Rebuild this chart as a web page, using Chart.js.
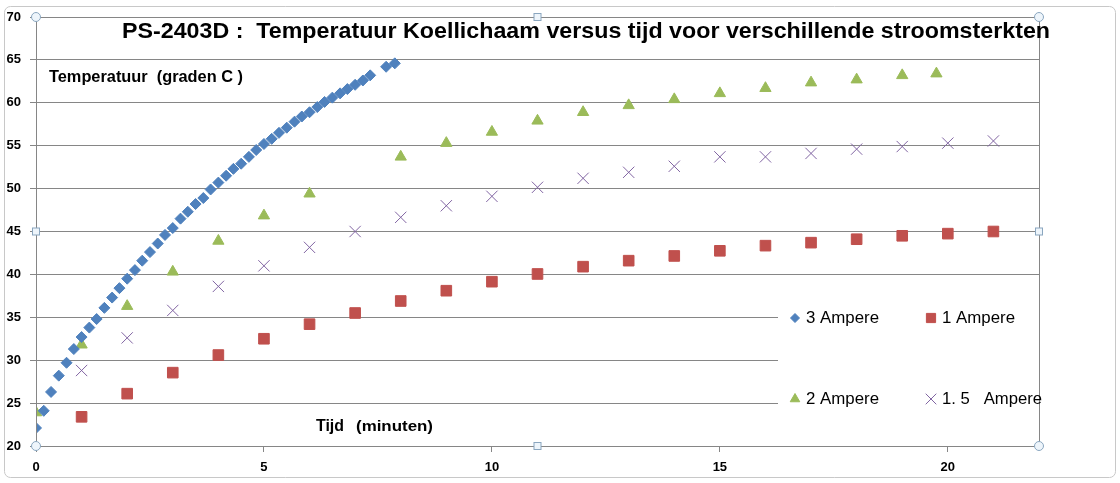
<!DOCTYPE html>
<html>
<head>
<meta charset="utf-8">
<script src="https://cdn.jsdelivr.net/npm/chart.js@4.4.1/dist/chart.umd.min.js"></script>
<style>
  html, body { margin: 0; padding: 0; background: #fff; }
  #wrap { width: 1120px; height: 483px; }
</style>
</head>
<body>
<div id="wrap"><canvas id="chart" width="1120" height="483"></canvas></div>
<script>
// PS-2403D: temperatuur koellichaam versus tijd, vier stroomsterkten
const time3A = [0,0.17,0.33,0.5,0.67,0.83,1,1.17,1.33,1.5,1.67,1.83,2,2.17,2.33,2.5,2.67,2.83,
  3,3.17,3.33,3.5,3.67,3.83,4,4.17,4.33,4.5,4.67,4.83,5,5.17,5.33,5.5,5.67,5.83,
  6,6.17,6.33,6.5,6.67,6.83,7,7.17,7.33,7.68,7.87];
const temp3A = [22.1,24.1,26.3,28.2,29.7,31.3,32.7,33.8,34.8,36.1,37.3,38.4,39.5,40.5,41.6,42.6,43.6,44.6,
  45.4,46.5,47.3,48.2,48.9,49.9,50.7,51.5,52.3,52.9,53.7,54.5,55.2,55.8,56.5,57.1,57.8,58.4,
  58.9,59.5,60.1,60.6,61.1,61.6,62.1,62.6,63.2,64.2,64.6];

const time1A = [1,2,3,4,5,6,7,8,9,10,11,12,13,14,15,16,17,18,19,20,21];
const temp1A = [23.4,26.1,28.55,30.6,32.5,34.2,35.5,36.9,38.1,39.15,40.05,40.9,41.6,42.15,42.75,43.35,43.7,44.1,44.5,44.75,45.0];

const time2A = [0,1,2,3,4,5,6,8,9,10,11,12,13,14,15,16,17,18,19,19.75];
const temp2A = [23.9,31.8,36.3,40.3,43.9,46.85,49.4,53.7,55.3,56.6,57.9,58.9,59.7,60.4,61.1,61.7,62.35,62.7,63.2,63.4];

const time15A = [1,2,3,4,5,6,7,8,9,10,11,12,13,14,15,16,17,18,19,20,21];
const temp15A = [28.8,32.6,35.8,38.6,41.0,43.15,45.0,46.65,48.0,49.1,50.15,51.2,51.9,52.6,53.7,53.7,54.1,54.6,54.9,55.3,55.55];

const xTicks = [0, 5, 10, 15, 20];
const seriesNames = ['3 Ampere', '1 Ampere', '2 Ampere', '1. 5   Ampere'];

const titleText = 'PS-2403D :  Temperatuur Koellichaam versus tijd voor verschillende stroomsterkten';
const yTitle = 'Temperatuur  (graden C )';

const FONT = '"Liberation Sans", Arial, sans-serif';
const GRID = '#868686';

function pts(xs, ys) { return xs.map((x, i) => ({ x: x, y: ys[i] })); }

// text squeezed to a given width, like the Calibri original
function fitText(ctx, txt, x, y, w, weight, size) {
  ctx.font = weight + ' ' + size + 'px ' + FONT;
  const m = ctx.measureText(txt).width;
  ctx.save();
  ctx.translate(x, y);
  ctx.scale(w / m, 1);
  ctx.fillText(txt, 0, 0);
  ctx.restore();
}

const extras = {
  id: 'extras',
  afterDraw(chart) {
    const ctx = chart.ctx, a = chart.chartArea;
    ctx.save();

    // outer chart border
    ctx.strokeStyle = '#c8c8c8';
    ctx.lineWidth = 1;
    ctx.beginPath();
    ctx.roundRect(4.5, 6.5, 1111, 471, 6);
    ctx.stroke();

    // legend box (covers the gridlines behind it)
    const lx = 778, ly = 292;
    ctx.fillStyle = '#fff';
    ctx.fillRect(lx, ly, a.right - lx, 130);

    // plot area frame
    ctx.strokeStyle = GRID;
    ctx.strokeRect(Math.round(a.left) + 0.5, Math.round(a.top) + 0.5, Math.round(a.right - a.left), Math.round(a.bottom - a.top));

    ctx.textBaseline = 'middle';
    ctx.font = '16px ' + FONT;
    const cells = [[795, 318], [931, 318], [795, 399], [931, 399]];
    chart.data.datasets.forEach((ds, di) => {
      const [cx, cy] = cells[di];
      ctx.fillStyle = ds.backgroundColor;
      ctx.strokeStyle = ds.borderColor;
      ctx.lineWidth = 1;
      Chart.helpers.drawPoint(ctx, { pointStyle: ds.pointStyle, radius: ds.legendRadius, borderWidth: 1, rotation: 0 }, cx, cy);
      ctx.fillStyle = '#000';
      fitText(ctx, seriesNames[di], cx + 11, cy + 1, di === 3 ? 100 : 73, 'normal', 16);
    });

    // titles
    ctx.textBaseline = 'alphabetic';
    ctx.fillStyle = '#000';
    fitText(ctx, titleText, 122, 38, 928, 'bold', 22);
    fitText(ctx, yTitle, 49, 82, 194, 'bold', 16);
    fitText(ctx, 'Tijd', 316, 431, 28, 'bold', 16);
    fitText(ctx, '(minuten)', 356, 431, 77, 'bold', 14);

    // selection handles of the plot area
    const mx = (a.left + a.right) / 2, my = (a.top + a.bottom) / 2;
    ctx.lineWidth = 1;
    ctx.strokeStyle = '#8aa6bf';
    ctx.fillStyle = '#eef5fb';
    [[a.left, a.top], [a.right, a.top], [a.left, a.bottom], [a.right, a.bottom]].forEach(([hx, hy]) => {
      ctx.beginPath();
      ctx.arc(hx, hy, 4.5, 0, Math.PI * 2);
      ctx.fill();
      ctx.stroke();
    });
    [[mx, a.top], [a.left, my], [a.right, my], [mx, a.bottom]].forEach(([hx, hy]) => {
      ctx.fillRect(hx - 3.5, hy - 3.5, 7, 7);
      ctx.strokeRect(hx - 3.5, hy - 3.5, 7, 7);
    });
    ctx.restore();
  }
};

new Chart(document.getElementById('chart').getContext('2d'), {
  type: 'scatter',
  data: {
    datasets: [
      { label: seriesNames[0], data: pts(time3A, temp3A), pointStyle: 'rectRot', pointRadius: 5.5,
        backgroundColor: '#4F81BD', borderColor: '#4F81BD', borderWidth: 1, legendRadius: 4.5 },
      { label: seriesNames[1], data: pts(time1A, temp1A), pointStyle: 'rect', pointRadius: 7.5,
        backgroundColor: '#C0504D', borderColor: '#C0504D', borderWidth: 1, legendRadius: 6.5 },
      { label: seriesNames[2], data: pts(time2A, temp2A), pointStyle: 'triangle', pointRadius: 6.5,
        backgroundColor: '#9BBB59', borderColor: '#9BBB59', borderWidth: 1, legendRadius: 5.5 },
      { label: seriesNames[3], data: pts(time15A, temp15A), pointStyle: 'crossRot', pointRadius: 8,
        backgroundColor: '#8064A2', borderColor: '#8064A2', borderWidth: 1, legendRadius: 7.5 }
    ]
  },
  options: {
    responsive: false,
    animation: false,
    devicePixelRatio: 1,
    layout: { padding: { top: 17, right: 81, bottom: 7, left: 0 } },
    plugins: { legend: { display: false }, tooltip: { enabled: false }, title: { display: false } },
    scales: {
      x: {
        type: 'linear', min: 0, max: 22,
        afterBuildTicks: s => { s.ticks = xTicks.map(v => ({ value: v })); },
        afterFit: s => { s.height = 30; },
        border: { color: GRID, width: 1 },
        grid: { drawOnChartArea: false, color: GRID, tickLength: 6 },
        ticks: { color: '#000', font: { family: FONT, size: 13, weight: 'bold' }, padding: 8, maxRotation: 0 }
      },
      y: {
        min: 20, max: 70,
        afterFit: s => { s.width = 36; },
        border: { color: GRID, width: 1 },
        grid: { color: GRID, tickLength: 6 },
        ticks: { stepSize: 5, color: '#000', font: { family: FONT, size: 13, weight: 'bold' }, padding: 9 }
      }
    }
  },
  plugins: [extras]
});
</script>
</body>
</html>
